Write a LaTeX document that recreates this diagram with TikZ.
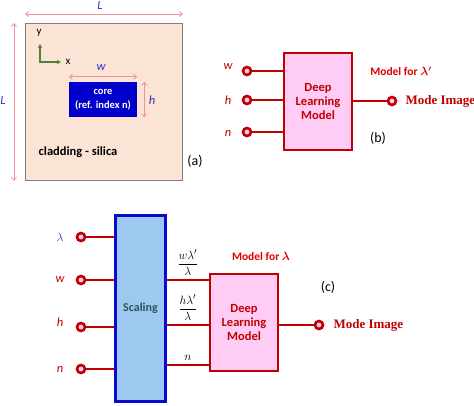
\documentclass[tikz,border=0pt]{standalone}
\usepackage{fontspec}
\usepackage{amsmath}
\setmainfont{Carlito}
\newfontfamily\serifb{Liberation Serif}
\usetikzlibrary{arrows.meta}
\definecolor{dred}{HTML}{C00000}
\definecolor{bred}{HTML}{E00000}
\definecolor{pinkfill}{HTML}{FFCCF5}
\definecolor{peach}{HTML}{FBE3D6}
\definecolor{cladborder}{HTML}{7F7F7F}
\definecolor{coreblue}{HTML}{0000CC}
\definecolor{dimcol}{HTML}{EE9494}
\definecolor{lblblue}{HTML}{3333BB}
\definecolor{axgreen}{HTML}{548235}
\definecolor{scalefill}{HTML}{9DC8F0}
\definecolor{scaleborder}{HTML}{0A0ACC}
\definecolor{scaletext}{HTML}{2A5656}
\tikzset{
  dim/.style={draw=dimcol, line width=0.8pt, {Straight Barb[length=3pt,width=5pt]}-{Straight Barb[length=3pt,width=5pt]}},
  axis/.style={draw=axgreen, line width=1.3pt, -{Triangle[length=4pt,width=4pt]}},
  dimlbl/.style={text=lblblue, font=\fontsize{12.5}{14}\selectfont\itshape},
  inlbl/.style={text=dred, font=\fontsize{12.5}{14}\selectfont\itshape},
  port/.style={circle, draw=dred, fill=pinkfill, line width=2.6pt, inner sep=0pt, minimum size=8pt},
  wire/.style={draw=dred, line width=1.2pt},
  dlmbox/.style={draw=dred, fill=pinkfill, line width=2.5pt, minimum width=68pt, minimum height=97pt, align=center, text=dred, font=\fontsize{12.5}{14}\selectfont\bfseries},
  modelfor/.style={text=bred, font=\fontsize{11.5}{13}\selectfont\bfseries},
  outlbl/.style={text=dred, anchor=west, font=\fontsize{13}{15}\selectfont\serifb\bfseries},
  panel/.style={font=\fontsize{14}{16}\selectfont},
  frac/.style={font=\fontsize{12.5}{14}\selectfont}
}
\begin{document}
\begin{tikzpicture}[x=1pt,y=-1pt]
\useasboundingbox (0,0) rectangle (474,405);
% ---------- panel (a)
\node[draw=cladborder, fill=peach, line width=1pt, minimum width=157pt, minimum height=157pt, anchor=north west, inner sep=0pt] (clad) at (25,23) {};
\node[fill=coreblue, minimum width=68pt, minimum height=35pt, inner sep=0pt, align=center, text=white, font=\fontsize{10.5}{13.5}\selectfont\bfseries] (core) at (103,99.5) {core\\(ref. index n)};
\draw[dim] ([yshift=9pt]clad.north west) -- ([yshift=9pt]clad.north east);
\draw[dim] ([xshift=-11pt]clad.north west) -- ([xshift=-11pt]clad.south west);
\draw[dim] ([yshift=5pt]core.north west) -- ([yshift=5pt]core.north east);
\draw[dim] ([xshift=7pt]core.north east) -- ([xshift=7pt]core.south east);
\node[dimlbl] (Ltop) at (100,5) {L};
\node[dimlbl] (Lleft) at (3,100) {L};
\node[dimlbl] (wlbl) at (101,68) {w};
\node[dimlbl] (hlbl) at (152,100) {h};
\coordinate (orig) at (40,62);
\coordinate (yend) at (40,44);
\coordinate (xend) at (61,62);
\draw[axis] (orig) -- (yend);
\draw[axis] ([xshift=-0.65pt]orig) -- (xend);
\node[font=\fontsize{11}{13}\selectfont] (ylbl) at (39,33) {y};
\node[font=\fontsize{11}{13}\selectfont] (xlbl) at (68,62) {x};
\node[font=\fontsize{12.5}{14}\selectfont\bfseries] (cladlbl) at (78,152) {cladding - silica};
\node[panel] (pa) at (195,161) {(a)};
% ---------- panel (b)
\node[dlmbox] (dlmb) at (318,101.5) {Deep\\Learning\\Model};
\node[port] (bw) at (247,71) {};
\node[port] (bh) at (247,100) {};
\node[port] (bn) at (247,132) {};
\node[inlbl] at (228,67) {w};
\node[inlbl] at (228,100) {h};
\node[inlbl] at (228,133) {n};
\draw[wire] (bw) -- (bw -| dlmb.west);
\draw[wire] (bh) -- (bh -| dlmb.west);
\draw[wire] (bn) -- (bn -| dlmb.west);
\node[port] (bout) at (392,101) {};
\draw[wire] (dlmb.east |- bout) -- (bout);
\node[outlbl] (bimg) at (402,101) {Mode Image};
\node[modelfor] (bmf) at (401,71) {Model for $\boldsymbol{\lambda'}$};
\node[panel] (pb) at (378,138) {(b)};
% ---------- panel (c)
\node[draw=scaleborder, fill=scalefill, line width=3pt, minimum width=50pt, minimum height=186pt, inner sep=0pt, text=scaletext, font=\fontsize{12}{14}\selectfont\bfseries] (scal) at (140.5,308.5) {Scaling};
\node[dlmbox] (dlmc) at (244,322.5) {Deep\\Learning\\Model};
\node[port] (cl) at (81,237) {};
\node[port] (cw) at (81,280) {};
\node[port] (ch) at (81,327) {};
\node[port] (cn) at (81,369) {};
\node[text=lblblue, font=\fontsize{12.5}{14}\selectfont] at (60,237) {$\lambda$};
\node[inlbl] at (60,280) {w};
\node[inlbl] at (60,322) {h};
\node[inlbl] at (60,369) {n};
\draw[wire] (cl) -- (cl -| scal.west);
\draw[wire] (cw) -- (cw -| scal.west);
\draw[wire] (ch) -- (ch -| scal.west);
\draw[wire] (cn) -- (cn -| scal.west);
\coordinate (o1) at (167,280);
\coordinate (o2) at (167,325);
\coordinate (o3) at (167,365);
\draw[wire] (scal.east |- o1) -- node[above=0.5pt, text=black, frac] {$\displaystyle\frac{w\lambda'}{\lambda}$} (dlmc.west |- o1);
\draw[wire] (scal.east |- o2) -- node[above=0.5pt, text=black, frac] {$\displaystyle\frac{h\lambda'}{\lambda}$} (dlmc.west |- o2);
\draw[wire] (scal.east |- o3) -- node[above=1pt, text=black, frac] {$n$} (dlmc.west |- o3);
\node[port] (cout) at (319,325) {};
\draw[wire] (dlmc.east |- cout) -- (cout);
\node[outlbl] (cimg) at (330,325) {Mode Image};
\node[modelfor] (cmf) at (261,256) {Model for $\boldsymbol{\lambda}$};
\node[panel] (pc) at (328,287) {(c)};
\end{tikzpicture}
\end{document}
